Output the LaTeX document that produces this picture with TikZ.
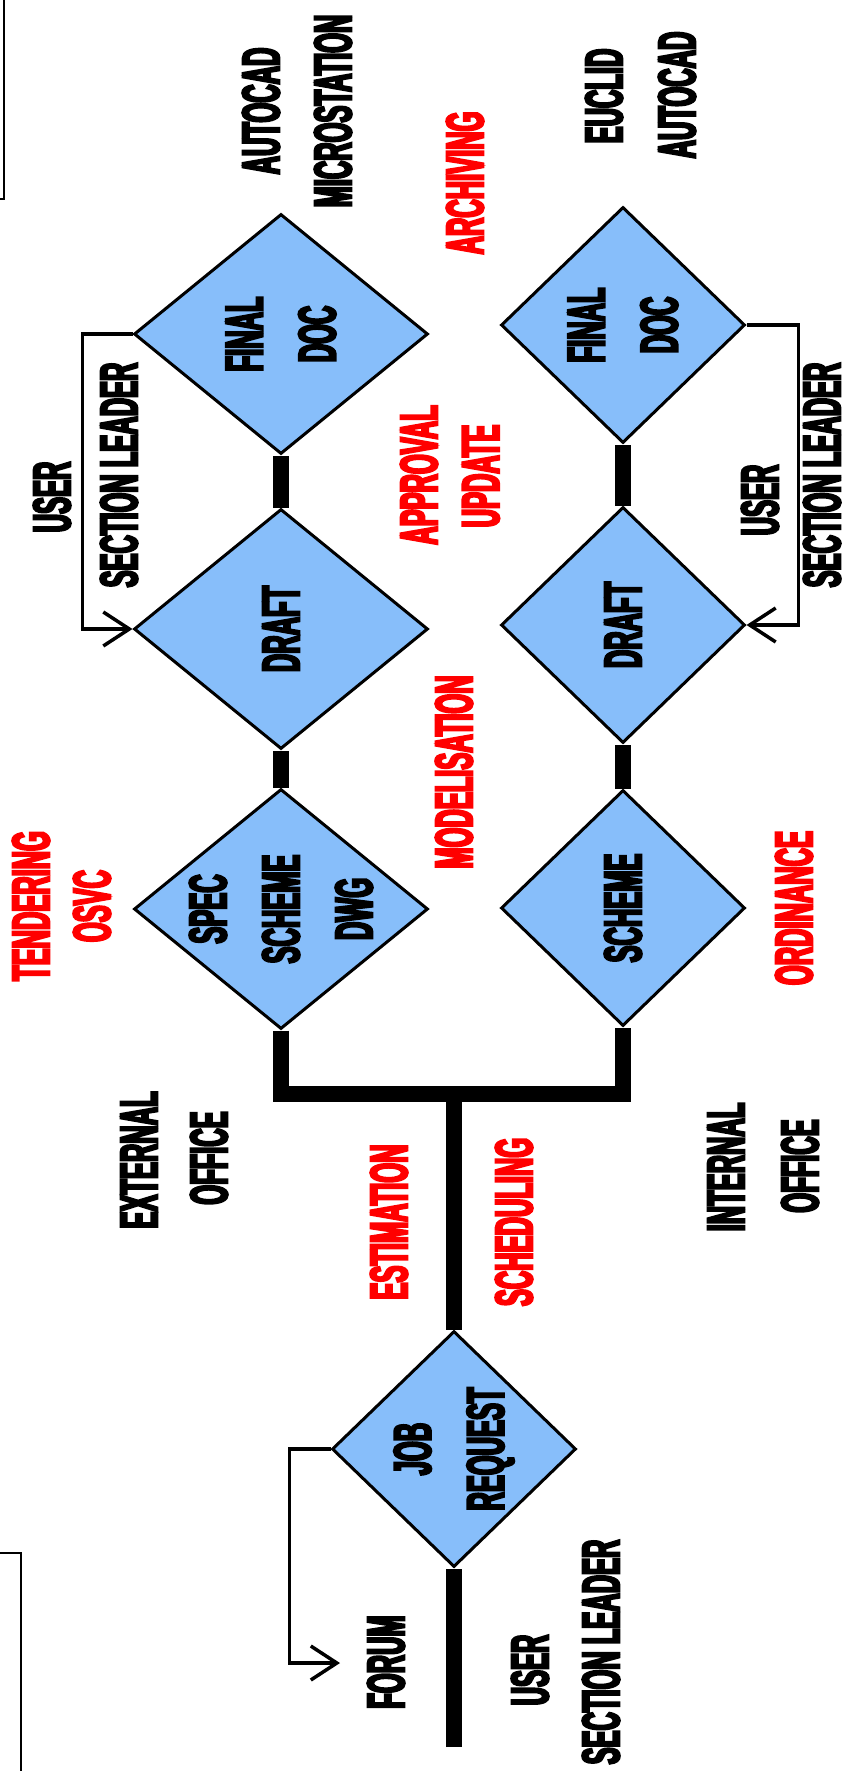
\documentclass[tikz,border=0pt]{standalone}
\usepackage{fontspec}
\usetikzlibrary{shapes.geometric,arrows.meta}
\newfontfamily\impactfont[FakeStretch=0.48,FakeBold=4]{Liberation Sans}
\definecolor{boxblue}{RGB}{135,190,250}
\begin{document}
\begin{tikzpicture}[x=1pt,y=-1pt,line join=miter,
    font=\impactfont\bfseries\fontsize{53}{73}\selectfont,
    lbl/.style={rotate=90,inner sep=0pt},
    redlbl/.style={lbl,text=red},
    dbox/.style={diamond,draw=black,line width=3pt,fill=boxblue,inner sep=0pt},
    bigbox/.style={dbox,minimum width=294pt,minimum height=240pt},
    smallbox/.style={dbox,minimum width=244pt,minimum height=236pt},
    flow/.style={line width=16pt,line cap=butt},
    brk/.style={line width=3.5pt},
    >={Straight Barb[length=26pt,width=34pt]}]
%% khung
\useasboundingbox (0,0) rectangle (853,1771);
\draw[line width=2pt] (0,199) -- (4,199) -- (4,0);
\draw[line width=2pt] (0,1553) -- (21,1553) -- (21,1771);
%% cac hinh thoi
\def\xa{281}
\def\xb{623}
\node[bigbox,label={[lbl,align=center]center:{FINAL\\DOC}}] (fin1) at (\xa,334) {};
\node[bigbox,label={[lbl]center:DRAFT}] (dra1) at (\xa,629) {};
\node[bigbox,label={[lbl,align=center]center:{SPEC\\SCHEME\\DWG}}] (spe1) at (\xa,909) {};
\node[smallbox,label={[lbl,align=center]center:{FINAL\\DOC}}] (fin2) at (\xb,325) {};
\node[smallbox,label={[lbl]center:DRAFT}] (dra2) at (\xb,625) {};
\node[smallbox,label={[lbl]center:SCHEME}] (sch2) at (\xb,908) {};
\node[smallbox,label={[lbl,align=center]center:{JOB\\REQUEST}}] (job) at (454,1449) {};
\coordinate (start) at (454,1747);
\coordinate (fork) at (454,1094);
\coordinate (forumend) at (340,1663);
%% duong noi
\draw[flow] (start) -- (job.south);
\draw[flow] (job.north) -- (fork);
\draw[flow] (spe1.south) |- (fork) -| (sch2.south);
\draw[flow] (spe1.north) -- (dra1.south);
\draw[flow] (dra1.north) -- (fin1.south);
\draw[flow] (sch2.north) -- (dra2.south);
\draw[flow] (dra2.north) -- (fin2.south);
\draw[brk,->] (fin1.west) -- ++(-50,0) |- (dra1.west);
\draw[brk,->] (fin2.east) -- ++(52,0) |- (dra2.east);
\draw[brk,->] (job.west) -- ++(-41,0) |- (forumend);
%% nhan
\node[lbl] (autoA) at (261,111) {AUTOCAD};
\node[lbl] (micro) at (333,111) {MICROSTATION};
\node[lbl] (euclid) at (604,96) {EUCLID};
\node[lbl] (autoB) at (677,95) {AUTOCAD};
\node[redlbl] (archiv) at (465,183) {ARCHIVING};
\node[lbl] (userA) at (52,497) {USER};
\node[lbl] (leadA) at (119,475) {SECTION LEADER};
\node[redlbl] (approv) at (419,475) {APPROVAL};
\node[redlbl] (updat) at (481,476) {UPDATE};
\node[lbl] (userB) at (760,500) {USER};
\node[lbl] (leadB) at (822,475) {SECTION LEADER};
\node[redlbl] (model) at (454,772) {MODELISATION};
\node[redlbl] (tender) at (31,906) {TENDERING};
\node[redlbl] (osvc) at (92,906) {OSVC};
\node[redlbl] (ordin) at (794,908) {ORDINANCE};
\node[lbl] (extA) at (139,1160) {EXTERNAL};
\node[lbl] (offA) at (209,1158) {OFFICE};
\node[redlbl] (estim) at (389,1222) {ESTIMATION};
\node[redlbl] (sched) at (514,1222) {SCHEDULING};
\node[lbl] (intB) at (726,1167) {INTERNAL};
\node[lbl] (offB) at (800,1166) {OFFICE};
\node[lbl] (forum) at (386,1662) {FORUM};
\node[lbl] (userC) at (530,1670) {USER};
\node[lbl] (leadC) at (601,1652) {SECTION LEADER};
\end{tikzpicture}
\end{document}
